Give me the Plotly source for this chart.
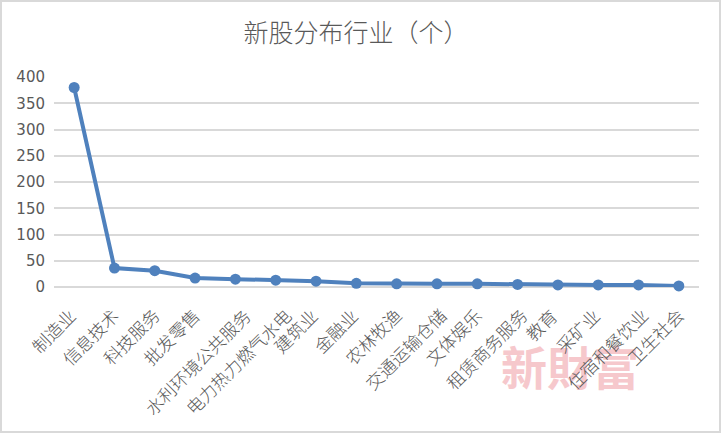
import plotly.graph_objects as go

categories = ["制造业", "信息技术", "科技服务", "批发零售", "水利环境公共服务", "电力热力燃气水电",
              "建筑业", "金融业", "农林牧渔", "交通运输仓储", "文体娱乐", "租赁商务服务",
              "教育", "采矿业", "住宿和餐饮业", "卫生社会"]
values = [380, 36, 31, 17, 15, 13, 11, 7, 6, 6, 6, 5, 4, 4, 4, 2]
y_ticks = [0, 50, 100, 150, 200, 250, 300, 350, 400]

L, R, T, B = 54, 23, 77, 147
W, H = 722, 434
pw, ph = W - L - R, H - T - B
LABEL_SIZE = 17.5

fig = go.Figure()
fig.add_trace(go.Scatter(
    x=categories, y=values, mode="lines+markers",
    line=dict(color="#4F81BD", width=4),
    marker=dict(color="#4F81BD", size=11),
    cliponaxis=False, showlegend=False,
))

# watermark first so category labels draw over it
annotations = [dict(text="<b>新財富</b>", xref="paper", yref="paper",
                    x=(570 - L) / pw, y=(H - B - 365) / ph, showarrow=False,
                    xanchor="center", yanchor="middle",
                    font=dict(family="Noto Sans CJK SC", size=46, color="#F6C8CC"))]

# rotated category labels (Excel-like anchoring)
for c in categories:
    annotations.append(dict(
        x=c, y=0, xref="x", yref="y", text=c, showarrow=False, textangle=-45,
        xanchor="right", yanchor="top",
        xshift=2.7 * (len(c) - 2) + 7, yshift=-13,
        font=dict(family="Noto Sans CJK SC", size=LABEL_SIZE, color="#595959", weight=300),
    ))

fig.update_layout(
    width=W, height=H,
    margin=dict(l=L, r=R, t=T, b=B, autoexpand=False),
    paper_bgcolor="white", plot_bgcolor="white",
    title=dict(text="新股分布行业（个）", x=356 / W, xanchor="center", y=1 - 33 / H, yanchor="middle",
               font=dict(family="Noto Sans CJK SC", size=25, color="#595959", weight=300)),
    xaxis=dict(type="category", showgrid=False, showline=False, ticks="", showticklabels=False,
               automargin=False, range=[-0.5, len(categories) - 0.5]),
    yaxis=dict(range=[0, 400], tickvals=y_ticks, showgrid=True, gridcolor="#D9D9D9", gridwidth=1.5,
               zeroline=True, zerolinecolor="#D9D9D9", zerolinewidth=1.5, ticks="",
               automargin=False, ticklabelstandoff=8,
               tickfont=dict(family="DejaVu Sans", size=15, color="#595959")),
    annotations=annotations,
    shapes=[dict(type="rect", xref="paper", yref="paper",
                 x0=-(L - 1) / pw, x1=1 + (R - 2) / pw, y0=-(B - 2) / ph, y1=1 + (T - 1) / ph,
                 line=dict(color="#D9D9D9", width=2), layer="below")],
)

fig.write_html("out.html", config={"displayModeBar": False},
               post_script="document.body.style.margin='0';document.body.style.overflow='hidden';")
